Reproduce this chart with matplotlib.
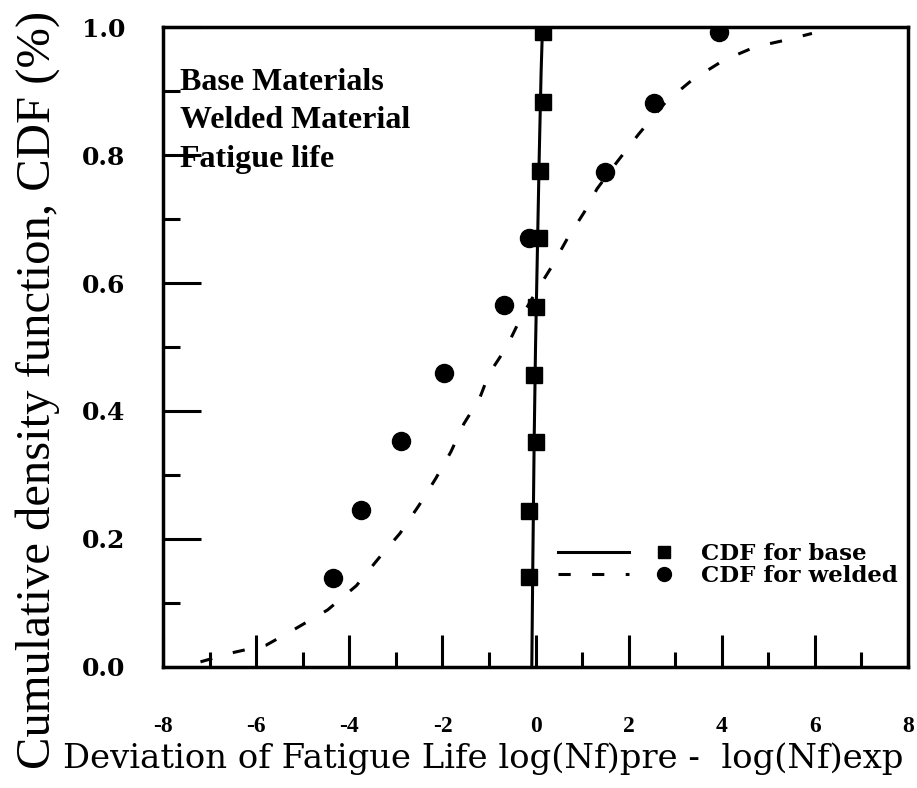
import numpy as np
import matplotlib
matplotlib.use("Agg")
from matplotlib import pyplot as plt
from matplotlib.lines import Line2D
from matplotlib.legend_handler import HandlerTuple
from matplotlib.ticker import MultipleLocator

# data
base_x = [-0.15, -0.15, 0.0, -0.04, 0.0, 0.07, 0.1, 0.15, 0.15]
base_cdf = [0.14, 0.243, 0.352, 0.456, 0.563, 0.67, 0.775, 0.883, 0.993]
weld_x = [-4.36, -3.74, -2.88, -1.97, -0.68, -0.15, 1.5, 2.54, 3.95]
weld_cdf = [0.139, 0.245, 0.353, 0.46, 0.565, 0.67, 0.774, 0.881, 0.992]

# fitted curves
base_curve_x = [-0.08, -0.06, -0.03, 0.0, 0.04, 0.08, 0.12, 0.15]
base_curve_y = [0.0, 0.15, 0.35, 0.5, 0.65, 0.8, 0.93, 1.0]
weld_curve_x = [-7.2, -6.47, -5.79, -5.13, -4.47, -3.85, -3.38, -2.91, -2.5, -2.14,
                -1.82, -1.54, -1.2, -1.0, -0.62, -0.32, 0.0, 0.36, 0.68, 1.05,
                1.32, 1.75, 2.22, 2.8, 3.36, 4.04, 4.72, 5.4, 5.94]
weld_curve_y = [0.008, 0.023, 0.034, 0.061, 0.089, 0.127, 0.169, 0.209, 0.253, 0.295,
                0.336, 0.38, 0.42, 0.458, 0.5, 0.545, 0.585, 0.627, 0.669, 0.711,
                0.747, 0.789, 0.833, 0.883, 0.917, 0.948, 0.969, 0.98, 0.99]

x_ticks = [-8, -6, -4, -2, 0, 2, 4, 6, 8]
y_ticks = [0.0, 0.2, 0.4, 0.6, 0.8, 1.0]
notes = ["Base Materials", "Welded Material", "Fatigue life"]

serif = "Liberation Serif"
wide = "DejaVu Serif"

fig = plt.figure(figsize=(9.17, 7.88), dpi=100)
ax = fig.add_axes([0.178, 0.1536, 0.812, 0.8121])

ax.plot(base_curve_x, base_curve_y, color="black", lw=2.2)
ax.plot(weld_curve_x, weld_curve_y, color="black", lw=2.2, dashes=(4, 7))
ax.plot(base_x, base_cdf, "s", color="black", ms=11, ls="none")
ax.plot(weld_x, weld_cdf, "o", color="black", ms=13, ls="none")

ax.set_xlim(-8, 8)
ax.set_ylim(0, 1.0)
ax.set_xticks(x_ticks)
ax.set_yticks(y_ticks)
ax.set_xticklabels([str(v) for v in x_ticks], fontfamily=serif,
                   fontweight="bold", fontsize=17)
ax.set_yticklabels(["%.1f" % v for v in y_ticks], fontfamily=wide,
                   fontweight="bold", fontsize=18)
ax.xaxis.set_minor_locator(MultipleLocator(1))
ax.yaxis.set_minor_locator(MultipleLocator(0.1))

ax.tick_params(which="both", direction="in", top=False, right=False, width=2.2)
ax.tick_params(axis="x", which="major", length=23, pad=35)
ax.tick_params(axis="x", which="minor", length=11)
ax.tick_params(axis="y", which="major", length=27, pad=27)
ax.tick_params(axis="y", which="minor", length=12)

for s in ax.spines.values():
    s.set_linewidth(2.5)

fig.text(483 / 917, 1 - 759 / 788,
         "Deviation of Fatigue Life log(Nf)pre -  log(Nf)exp",
         fontfamily=wide, fontsize=24.4, ha="center", va="center")
fig.text(38 / 917, 1 - 390 / 788, "Cumulative density function, CDF (%)",
         fontfamily=serif, fontsize=35, rotation=90, ha="center", va="center")

for i, t in enumerate(notes):
    ax.text(0.023, [0.9016, 0.842, 0.781][i], t, transform=ax.transAxes,
            fontfamily=serif, fontweight="bold", fontsize=23, va="baseline")

h_base = (Line2D([], [], color="black", lw=2.2),
          Line2D([], [], marker="s", color="black", ms=9, ls="none"))
h_weld = (Line2D([], [], color="black", lw=2.2, dashes=(4, 7)),
          Line2D([], [], marker="o", color="black", ms=10, ls="none"))
ax.legend([h_base, h_weld], ["CDF for base", "CDF for welded"],
          handler_map={tuple: HandlerTuple(ndivide=None, pad=0)},
          loc="lower left", bbox_to_anchor=(0.53, 0.125), frameon=False,
          borderpad=0, borderaxespad=0,
          handlelength=6.2, handletextpad=0.05, labelspacing=0.0,
          prop={"family": wide, "weight": "bold", "size": 16.5})

fig.savefig("out.png", dpi=100)
